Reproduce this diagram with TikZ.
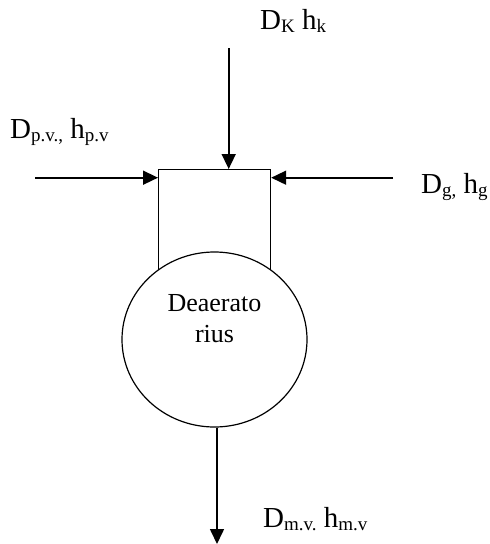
\documentclass[tikz,border=0pt]{standalone}
\usepackage{fontspec}
\setmainfont{Liberation Serif}
\usetikzlibrary{arrows.meta,shapes.geometric}
\newcommand\sbs[1]{\raisebox{-0.28ex}{\fontsize{19}{19}\selectfont #1}}
\tikzset{
  lbl/.style={anchor=base west, inner sep=0pt, font=\fontsize{29}{34}\selectfont},
  flow/.style={line width=1.6pt, -{Triangle[length=15pt,width=14pt]}},
  vessel/.style={draw, line width=1.2pt, inner sep=0pt}
}
\begin{document}
\begin{tikzpicture}[x=1pt,y=-1pt]
\useasboundingbox (0,0) rectangle (490,544);
\node[vessel, anchor=north west, minimum width=112pt, minimum height=130pt] (box) at (158,169) {};
\node[vessel, ellipse, fill=white, minimum width=185pt, minimum height=175pt] (tank) at (214.5,339.5) {};
\node[align=center, font=\fontsize{26}{31}\selectfont, anchor=base, inner sep=0pt] (name) at (214.5,342) {Deaerato\\rius};
\coordinate (kin) at (228.7,48);
\coordinate (pin) at (35,177.7);
\coordinate (gin) at (393,177.7);
\coordinate (out) at (217,544);
\draw[flow] (kin) -- (kin |- box.north);
\draw[flow] (pin) -- (pin -| box.west);
\draw[flow] (gin) -- (gin -| box.east);
\draw[flow] (tank.south -| out) -- (out);
\node[lbl] (lk) at (260,29) {D\sbs{K} h\sbs{k}};
\node[lbl] (lp) at (10,138) {D\sbs{p.v.,} h\sbs{p.v}};
\node[lbl] (lg) at (421,193) {D\sbs{g,} h\sbs{g}};
\node[lbl] (lm) at (263,527) {D\sbs{m.v.} h\sbs{m.v}};
\end{tikzpicture}
\end{document}
